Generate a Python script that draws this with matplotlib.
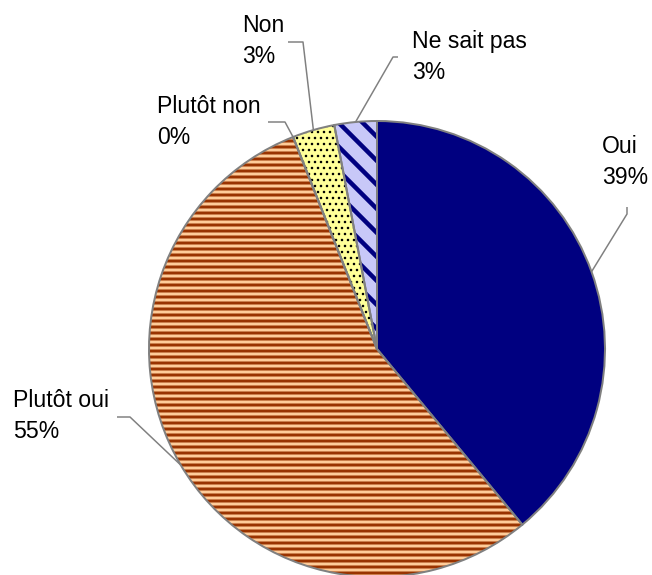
import numpy as np
import matplotlib
matplotlib.use('agg')
import matplotlib.pyplot as plt

labels = ['Oui', 'Plutôt oui', 'Plutôt non', 'Non', 'Ne sait pas']
values = [39, 55, 0, 3, 3]
pct_text = ['39%', '55%', '0%', '3%', '3%']

face = ['#000080', '#ffcc99', '#ffffff', '#ffff99', '#c8c8f8']
hatch_col = ['#000080', '#993300', '#ffffff', '#000000', '#000080']
hatches = [None, '--', None, '..', '\\']
hatch_lw = [1.0, 3.0, 1.0, 1.3, 4.5]

# label anchors (pixels from top-left) and leader elbow points
label_pos = [(602, 153), (13, 407), (157, 113), (242, 32), (412, 48)]
leader_pts = [
    [(627, 207), (627, 214)],
    [(117, 417), (130, 417)],
    [(268, 122), (285, 122)],
    [(288, 42), (303, 42)],
    [(398, 57), (393, 57)],
]

W, H = 652, 575
cx, cy, R = 377, H - 349, 228

fig = plt.figure(figsize=(W / 72, H / 72), dpi=72)
ax = fig.add_axes([0, 0, 1, 1])

wedges, _ = ax.pie(values, startangle=90, counterclock=False,
                   center=(cx, cy), radius=R)
for w, fc, hc, h, lw in zip(wedges, face, hatch_col, hatches, hatch_lw):
    w.set_facecolor(fc)
    w.set_edgecolor(hc)
    w.set_linewidth(0)
    if h:
        w.set_hatch(h)
        w.set_hatch_linewidth(lw)

# grey outlines on top
edges, _ = ax.pie(values, startangle=90, counterclock=False,
                  center=(cx, cy), radius=R)
for w in edges:
    w.set_facecolor('none')
    w.set_edgecolor('#808080')
    w.set_linewidth(2)

for i, w in enumerate(wedges):
    mid = np.deg2rad((w.theta1 + w.theta2) / 2)
    ex, ey = cx + R * np.cos(mid), cy + R * np.sin(mid)
    pts = [(x, H - y) for x, y in leader_pts[i]] + [(ex, ey)]
    xs, ys = zip(*pts)
    ax.plot(xs, ys, color='#808080', lw=1.5, solid_capstyle='butt')
    tx, ty = label_pos[i]
    ax.text(tx, H - ty, labels[i], fontsize=23, family='Liberation Sans',
            va='baseline', ha='left')
    ax.text(tx, H - ty - 31, pct_text[i], fontsize=23,
            family='Liberation Sans', va='baseline', ha='left')

ax.set_xlim(0, W)
ax.set_ylim(0, H)
ax.set_aspect('equal')
ax.axis('off')

fig.savefig('out.png', dpi=72)
